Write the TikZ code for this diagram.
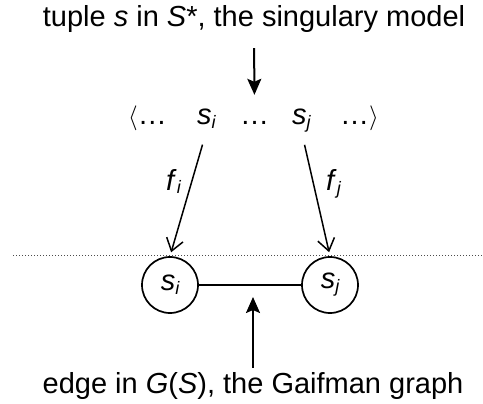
\documentclass[tikz,border=0pt]{standalone}
\usepackage{fontspec}
\setmainfont{Liberation Sans}
\usetikzlibrary{arrows.meta,calc}
\newcommand{\sbx}[1]{\raisebox{-4pt}{\fontsize{18}{18}\selectfont\itshape #1}}
\newcommand{\brk}[1]{{\fontsize{25}{25}\selectfont$#1$}}
\begin{document}
\begin{tikzpicture}[x=1pt,y=-1pt,
  lbl/.style={inner sep=0pt, text height=21pt, text depth=6pt, font=\fontsize{29}{34}\selectfont},
  vnode/.style={circle, draw, line width=1.7pt, minimum size=56pt, inner sep=0pt, font=\fontsize{29}{34}\selectfont},
  maparrow/.style={line width=1.5pt, -{Straight Barb[length=12pt,width=17pt,line width=1.5pt]}},
  callout/.style={line width=2pt, -{Stealth[length=16pt,width=14pt,inset=3pt]}},
  sepline/.style={dotted, line width=1pt, black!70},
  edgeline/.style={line width=1.5pt}]
\useasboundingbox (0,0) rectangle (483,404);
% texts
\node[lbl, anchor=base] (top) at (254,27) {tuple \textit{s} in \textit{S}*, the singulary model};
\node[lbl, anchor=base] (bot) at (253,393) {edge in \textit{G}(\textit{S}), the Gaifman graph};
% tuple row
\node[lbl, anchor=base west] (lt) at (128,125) {\brk{\langle}…};
\node[lbl, anchor=base west] (si) at (197,125) {\textit{s}\sbx{i}};
\node[lbl, anchor=base] (mid) at (254.5,125) {…};
\node[lbl, anchor=base west] (sj) at (292,125) {\textit{s}\sbx{j}};
\node[lbl, anchor=base west] (rt) at (340,125) {…\brk{\rangle}};
% graph vertices
\node[vnode] (ci) at (170,285) {\textit{s}\sbx{i}};
\node[vnode] (cj) at (330,285) {\textit{s}\sbx{j}};
% labels of maps
\node[lbl, anchor=base west] (fi) at (166,190) {\textit{f}\sbx{i}};
\node[lbl, anchor=base west] (fj) at (326,191) {\textit{f}\sbx{j}};
% dotted separator
\coordinate (dl) at (13,256);
\coordinate (dr) at (483,256);
\draw[sepline] (dl) -- (dr);
% edge
\draw[edgeline] (ci) -- (cj);
% map arrows
\draw[maparrow, shorten <=14pt, shorten >=4pt] (si.south) -- (ci.north);
\draw[maparrow, shorten <=14pt, shorten >=4pt] (sj.south) -- (cj.north);
% callouts
\draw[callout, shorten <=15pt, shorten >=9pt] (top.south) -- (mid.north);
\draw[callout, shorten <=4pt, shorten >=12pt] (bot.north) -- (bot.north |- ci);
\end{tikzpicture}
\end{document}
